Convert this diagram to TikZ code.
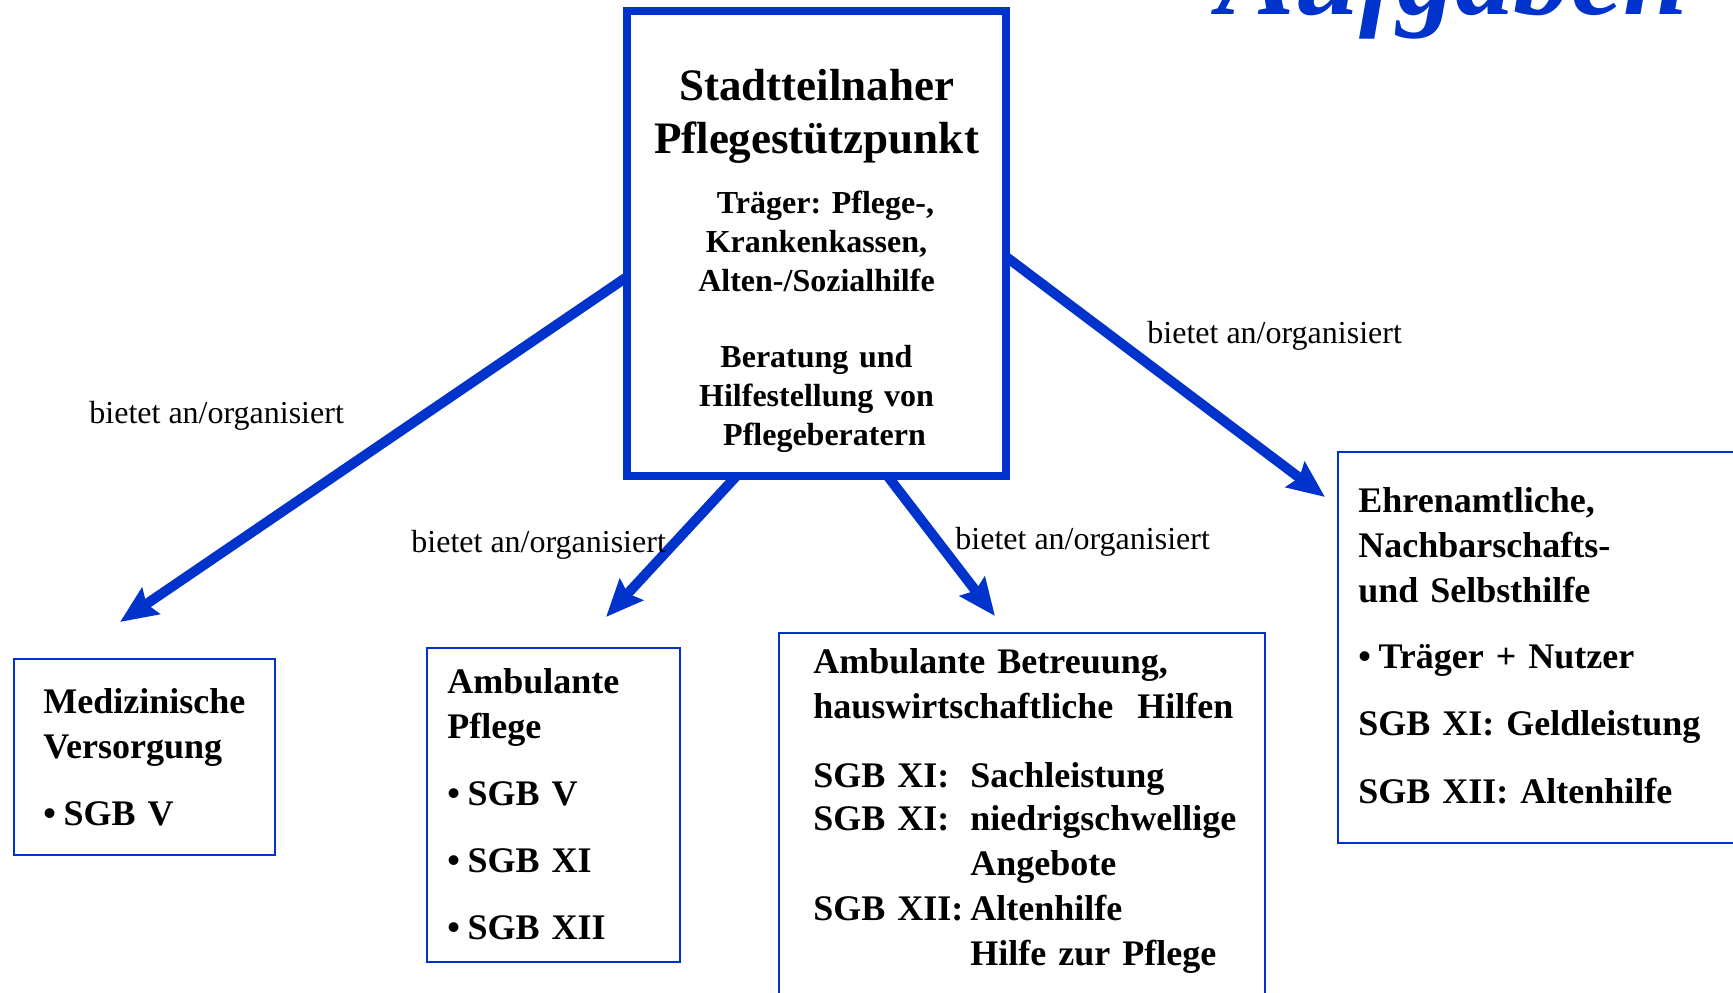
\documentclass[tikz,border=0pt]{standalone}
\usepackage{fontspec}
\setmainfont{Liberation Serif}
\usetikzlibrary{arrows.meta}
\definecolor{kastenblau}{HTML}{0033CC}
\newcommand{\spalte}[1]{\makebox[78.5pt][l]{#1}}
\newcommand{\punkt}{•\hspace{3.8pt}}
\frenchspacing
\begin{document}
\begin{tikzpicture}[x=0.5pt,y=-0.5pt,
    kasten/.style={draw=kastenblau,line width=1.25pt,outer sep=0pt,inner sep=0pt,anchor=north west},
    hauptkasten/.style={draw=kastenblau,line width=4pt,outer sep=0pt,inner sep=0pt},
    kastentext/.style={anchor=base west,inner sep=0pt,text width=240pt,align=left,font=\fontsize{18}{22.5}\selectfont\bfseries},
    mitte/.style={anchor=base,inner sep=0pt,text width=185pt,align=center},
    pfeil/.style={draw=kastenblau,line width=5pt,-{Stealth[length=18.5pt,width=15.5pt,inset=2.5pt]}},
    beschriftung/.style={anchor=base west,inner sep=0pt,font=\fontsize{16}{19}\selectfont}]
        \clip (0,0) rectangle (1733,992);

        % Ueberschrift
        \node[anchor=base west,inner sep=0pt,text=kastenblau,font=\fontsize{58}{60}\selectfont\bfseries\itshape] (ueberschrift) at (1217,14) {Aufgaben};

        % Stuetzpunkt
        \node[hauptkasten,minimum width=189.5pt,minimum height=232.5pt] (zentrum) at (816.5,243.5) {};
        \node[mitte,font=\fontsize{22.5}{26.5}\selectfont\bfseries] (titel) at (816.5,100) {Stadtteilnaher\\Pflegestützpunkt};
        \node[mitte,font=\fontsize{16}{19.5}\selectfont\bfseries] (traeger) at (816.5,213) {\hspace*{9pt}Träger: Pflege-,\\Krankenkassen,\\Alten-/Sozialhilfe};
        \node[mitte,font=\fontsize{16}{19.5}\selectfont\bfseries] (beratung) at (816.5,367) {Beratung und\\Hilfestellung von\\\hspace*{8pt}Pflegeberatern};

        % Angebote
        \node[kasten,minimum width=130.5pt,minimum height=98pt] (med) at (14,659) {};
        \node[kastentext] (medtext) at (43,713) {Medizinische\\Versorgung\\[11pt]\punkt SGB V};

        \node[kasten,minimum width=126.5pt,minimum height=157pt] (ambpflege) at (427,648) {};
        \node[kastentext] (ambpflegetext) at (447,693) {Ambulante\\Pflege\\[11pt]\punkt SGB V\\[11pt]\punkt SGB XI\\[11pt]\punkt SGB XII};

        \node[kasten,minimum width=243pt,minimum height=200pt] (betreuung) at (779,633) {};
        \node[kastentext] (betreuungtext) at (813,673) {Ambulante Betreuung,\\hauswirtschaftliche\ \ Hilfen\\[12pt]\spalte{SGB XI:}Sachleistung\\[-1pt]\spalte{SGB XI:}niedrigschwellige\\\spalte{}Angebote\\\spalte{SGB XII:}Altenhilfe\\\spalte{}Hilfe zur Pflege};

        \node[kasten,minimum width=240pt,minimum height=195.5pt] (ehrenamt) at (1338,452) {};
        \node[kastentext] (ehrenamttext) at (1358,512) {Ehrenamtliche,\\Nachbarschafts-\\und Selbsthilfe\\[10.5pt]\punkt Träger + Nutzer\\[11pt]SGB XI: Geldleistung\\[11.5pt]SGB XII: Altenhilfe};

        % Pfeile
        \coordinate (spitze1) at (120,622);
        \coordinate (spitze2) at (606,617);
        \coordinate (spitze3) at (995,616);
        \coordinate (spitze4) at (1325,497);
        \draw[pfeil] (zentrum.190) -- (spitze1);
        \draw[pfeil] (zentrum.251) -- (spitze2);
        \draw[pfeil] (zentrum.287) -- (spitze3);
        \draw[pfeil] (zentrum.356) -- (spitze4);

        \node[beschriftung] (label1) at (89,423) {bietet an/organisiert};
        \node[beschriftung] (label2) at (411,552) {bietet an/organisiert};
        \node[beschriftung] (label3) at (955,549) {bietet an/organisiert};
        \node[beschriftung] (label4) at (1147,343) {bietet an/organisiert};
    \end{tikzpicture}
\end{document}
